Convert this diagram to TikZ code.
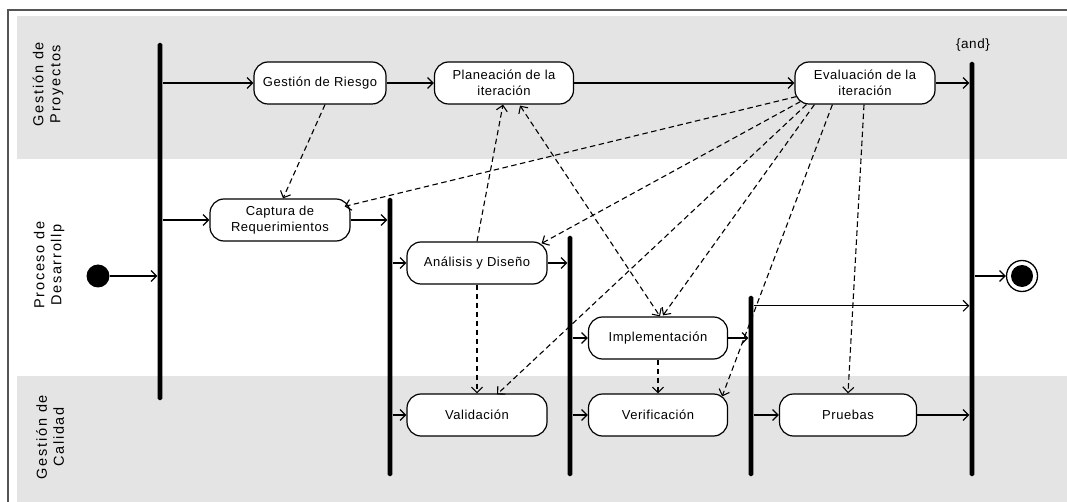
\documentclass[tikz,border=0pt]{standalone}
\usepackage{fontspec}
\setmainfont{Liberation Sans}
\newfontfamily\lanefont[LetterSpace=12]{Liberation Sans}
\newfontfamily\actfont[LetterSpace=4]{Liberation Sans}
\usetikzlibrary{arrows.meta,calc}
\definecolor{lanegray}{HTML}{E4E4E4}
\definecolor{framegray}{HTML}{555555}
\tikzset{
  act/.style={draw, line width=1.2pt, fill=white, rounded corners=14pt,
    minimum height=42pt, inner sep=0pt, align=center,
    font=\actfont\fontsize{13}{16}\selectfont},
  forkbar/.style={fill=black, inner sep=0pt, minimum width=4.8pt, rounded corners=1.5pt},
  flow/.style={line width=1.2pt, -{Straight Barb[length=5.5pt,width=11pt]}},
  dep/.style={line width=1.1pt, dash pattern=on 5.5pt off 3.5pt,
    -{Straight Barb[length=5.5pt,width=11pt]}},
  depboth/.style={dep, {Straight Barb[length=5.5pt,width=11pt]}-{Straight Barb[length=5.5pt,width=11pt]}},
  lane/.style={rotate=90, align=center, font=\lanefont\fontsize{14.5}{17}\selectfont},
}
\begin{document}
\begin{tikzpicture}[x=1pt,y=-1pt]
\useasboundingbox (0,0) rectangle (1067,502);
% swimlane backgrounds and frame
\fill[lanegray] (17,16) rectangle (1067,159);
\fill[lanegray] (17,376) rectangle (1067,502);
\draw[framegray, line width=1.5pt] (8,502) -- (8,10) -- (1067,10);
% lane titles
\node[lane] (lane1) at (48,84) {Gestión de\\Proyectos};
\node[lane] (lane2) at (49,265) {Proceso de\\Desarrollp};
\node[lane] (lane3) at (50,437) {Gestión de\\Calidad};
% fork / join bars
\node[forkbar, minimum height=357pt] (b1) at (160,221.5) {};
\node[forkbar, minimum height=278pt] (b2) at (390,337) {};
\node[forkbar, minimum height=240pt] (b3) at (570,356) {};
\node[forkbar, minimum height=180pt] (b4) at (751,386) {};
\node[forkbar, minimum height=414pt] (b5) at (972,269) {};
\node[font=\actfont\fontsize{13.5}{15}\selectfont] (andlbl) at (973,45) {\{and\}};
% start and end states
\node[circle, fill=black, minimum size=23pt, inner sep=0pt] (ini) at (98,276) {};
\node[draw, circle, minimum size=31pt, line width=1.3pt, inner sep=0pt,
  path picture={\fill (path picture bounding box.center) circle (11pt);}] (fin) at (1022,276) {};
% activities
\node[act, minimum width=132pt] (riesgo) at (320,83) {Gestión de Riesgo};
\node[act, minimum width=139pt] (plan) at (504,83) {Planeación de la\\iteración};
\node[act, minimum width=140pt] (eval) at (865,83) {Evaluación de la\\iteración};
\node[act, minimum width=140pt] (captura) at (280,220) {Captura de\\Requerimientos};
\node[act, minimum width=140pt] (analisis) at (477,263) {Análisis y Diseño};
\node[act, minimum width=139pt] (impl) at (658,338) {Implementación};
\node[act, minimum width=140pt] (valid) at (477,415) {Validación};
\node[act, minimum width=139pt] (verif) at (658,415) {Verificación};
\node[act, minimum width=137pt] (pruebas) at (848,415) {Pruebas};
% control flow
\draw[flow] (ini.east) -- (ini -| b1.west);
\draw[flow] (b1.east |- riesgo.west) -- (riesgo.west);
\draw[flow] (b1.east |- captura.west) -- (captura.west);
\draw[flow] (riesgo.east) -- (plan.west);
\draw[flow] (plan.east) -- (eval.west);
\draw[flow] (eval.east) -- (eval.east -| b5.west);
\draw[flow] (captura.east) -- (captura.east -| b2.west);
\draw[flow] (b2.east |- analisis.west) -- (analisis.west);
\draw[flow] (b2.east |- valid.west) -- (valid.west);
\draw[flow] (analisis.east) -- (analisis.east -| b3.west);
\draw[flow] (b3.east |- impl.west) -- (impl.west);
\draw[flow] (b3.east |- verif.west) -- (verif.west);
\draw[flow] (impl.east) -- (impl.east -| b4.west);
\coordinate (j4) at ($(b4.north east)+(0,10)$);
\draw[flow] (j4) -- (j4 -| b5.west);
\draw[flow] (b4.east |- pruebas.west) -- (pruebas.west);
\draw[flow] (pruebas.east) -- (pruebas.east -| b5.west);
\draw[flow] (b5.east |- fin.west) -- (fin.west);
% object / dependency flows
\draw[dep] ($(riesgo.south)+(5,0)$) -- ($(captura.north)+(3,0)$);
\draw[dep] (analisis.north) -- ($(plan.south)+(-1,0)$);
\draw[depboth] ($(plan.south)+(16,1)$) -- ($(impl.north)+(2,0)$);
\draw[dep] (analisis.south) -- (valid.north);
\draw[dep] (impl.south) -- (verif.north);
\draw[dep] ($(eval.south west)+(2,-8)$) -- ($(captura.north east)+(-6,8)$);
\draw[dep] ($(eval.south west)+(6,-3)$) -- ($(analisis.north east)+(-6,2)$);
\draw[dep] ($(eval.south west)+(12,0)$) -- ($(valid.north)+(20,1)$);
\draw[dep] ($(eval.south west)+(20,0)$) -- ($(impl.north)+(5,-1)$);
\draw[dep] ($(eval.south west)+(38,0)$) -- ($(verif.north east)+(-6,3)$);
\draw[dep] ($(eval.south)+(-1,0)$) -- (pruebas.north);
\end{tikzpicture}
\end{document}
